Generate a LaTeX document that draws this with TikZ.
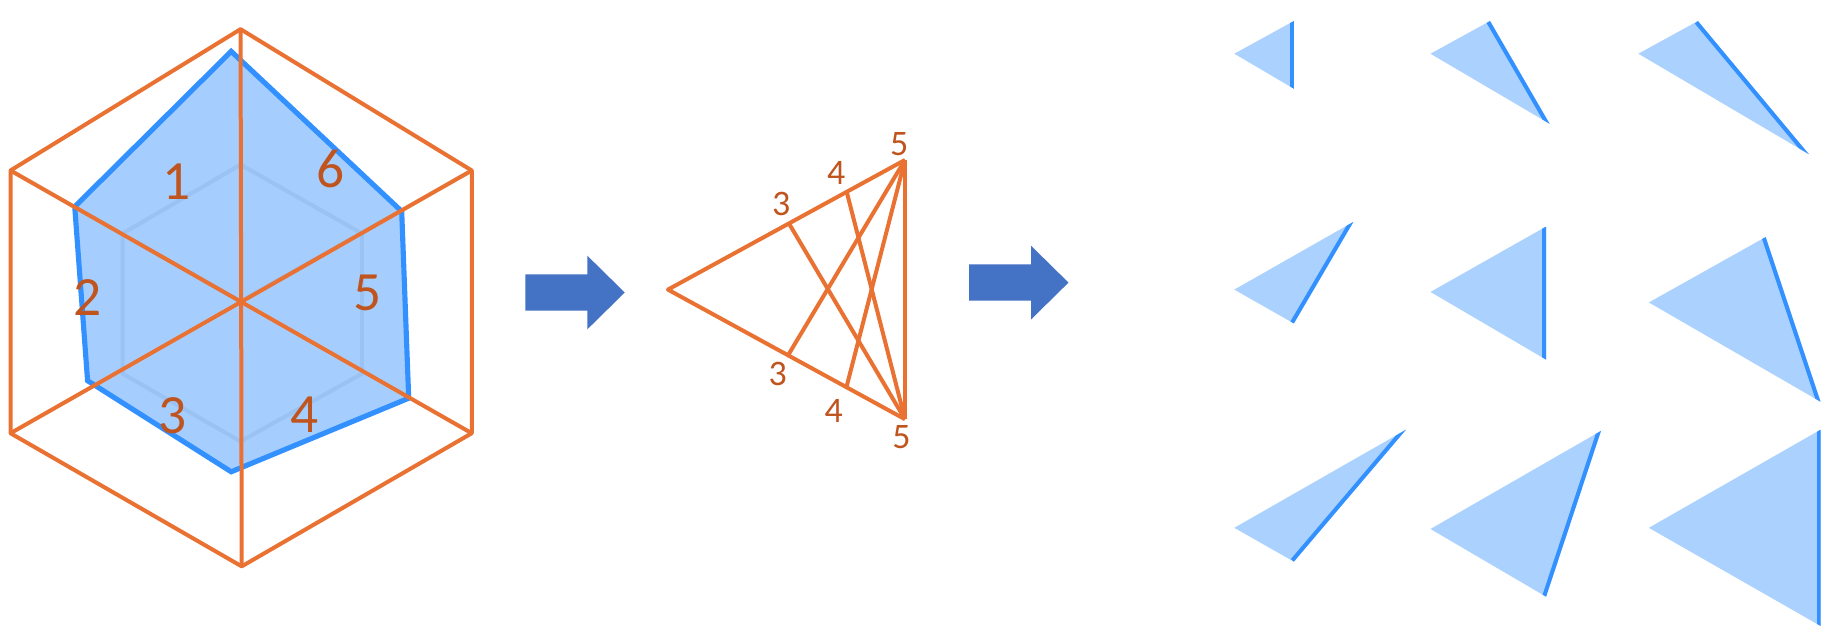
\documentclass[tikz,border=0pt]{standalone}
\usepackage{fontspec}
\setmainfont[Numbers=Lining]{Carlito}
\usepackage{tikz}
\definecolor{hexorange}{RGB}{233,113,50}
\definecolor{numorange}{RGB}{192,84,30}
\definecolor{edgeblue}{RGB}{51,144,255}
\definecolor{arrowblue}{RGB}{68,114,196}
\tikzset{
  hexline/.style={hexorange,line width=1.95pt,line join=round},
  faintline/.style={black!8,line width=2pt},
  bignum/.style={numorange,font=\fontsize{27}{27}\selectfont,inner sep=0pt},
  smallnum/.style={numorange,font=\fontsize{17.5}{17.5}\selectfont,inner sep=0pt},
  wedge/.style={fill=edgeblue,fill opacity=.41},
  wedgeedge/.style={edgeblue,line width=3.9pt}
}
\newcommand*{\bigarrow}[2]{
  \fill[arrowblue] (#1,#2-15.5) -- ++(53,0) -- ++(0,-16) -- (#1+85,#2) -- (#1+53,#2+31.5)
    -- ++(0,-16) -- (#1,#2+15.5) -- cycle;
}

\begin{document}
\begin{tikzpicture}[x=.02cm,y=-.02cm]
\useasboundingbox (0,0) rectangle (1568,548);
% left hexagon
\coordinate (O) at (206,258);
\coordinate (H1) at (206,25);
\coordinate (H2) at (404,146);
\coordinate (H3) at (404,371);
\coordinate (H4) at (207,485);
\coordinate (H5) at (9,371);
\coordinate (H6) at (9,146);
\draw[faintline] (206,141) -- (310,200) -- (310,320) -- (206,378) -- (105,320) -- (105,200) -- cycle;
\foreach \i in {2,6}
  \draw[faintline,yshift=.8pt] (O) -- (H\i);
\fill[wedge,fill opacity=.44] (198,44) -- (344,181) -- (350,341) -- (198,404) -- (75,326) -- (64,177) -- cycle;
\draw[edgeblue,line width=2.5pt,line join=miter] (198,44) -- (344,181) -- (350,341) -- (198,404) -- (75,326) -- (64,177) -- cycle;
\draw[hexline] (H1) -- (H2) -- (H3) -- (H4) -- (H5) -- (H6) -- cycle;
\draw[hexline] (H1) -- (H4);
\draw[hexline] (H2) -- (H5);
\draw[hexline] (H3) -- (H6);
\node[bignum] (n1) at (151,156) {1};
\node[bignum] (n2) at (75,255) {2};
\node[bignum] (n3) at (148,356) {3};
\node[bignum] (n4) at (261,355) {4};
\node[bignum] (n5) at (315,251) {5};
\node[bignum] (n6) at (283,145) {6};
% arrows
\bigarrow{450}{250.5}
\bigarrow{830}{242}
% middle triangle
\coordinate (apex) at (572,248);
\coordinate (top5) at (775,137);
\coordinate (bot5) at (775,359);
\coordinate (top3) at (676,192);
\coordinate (top4) at (725,164);
\coordinate (bot3) at (675,304);
\coordinate (bot4) at (725,331);
\draw[hexline] (top5) -- (apex) -- (bot5);
\draw[hexline,line width=2.3pt] (top5) -- (bot5);
\draw[hexline] (top3) -- (bot5);
\draw[hexline] (top4) -- (bot5);
\draw[hexline] (bot3) -- (top5);
\draw[hexline] (bot4) -- (top5);
\node[smallnum] (t5) at (770,123) {5};
\node[smallnum] (t4) at (716,148) {4};
\node[smallnum] (t3) at (669,175) {3};
\node[smallnum] (b3) at (666,320) {3};
\node[smallnum] (b4) at (714,352) {4};
\node[smallnum] (b5) at (772,374) {5};
% small triangles
\foreach \ax/\ay/\bx/\by/\cx/\cy in {
  1057/46/1108/18/1108/76, 1225/46/1276/18/1327/106, 1403/46/1454/18/1549/132,
  1057/248/1159/190/1108/277, 1225/250/1324/194/1324/308, 1412/259/1512/203/1559/344,
  1057/452/1204/368/1108/481, 1225/453/1371/369/1324/511, 1412/452/1559/368/1559/536} {
  \fill[wedge] (\ax,\ay) -- (\bx,\by) -- (\cx,\cy) -- cycle;
  \begin{scope}
    \clip (\ax,\ay) -- (\bx,\by) -- (\cx,\cy) -- cycle;
    \draw[wedgeedge] (\bx,\by) -- (\cx,\cy);
  \end{scope}
}
\end{tikzpicture}
\end{document}
